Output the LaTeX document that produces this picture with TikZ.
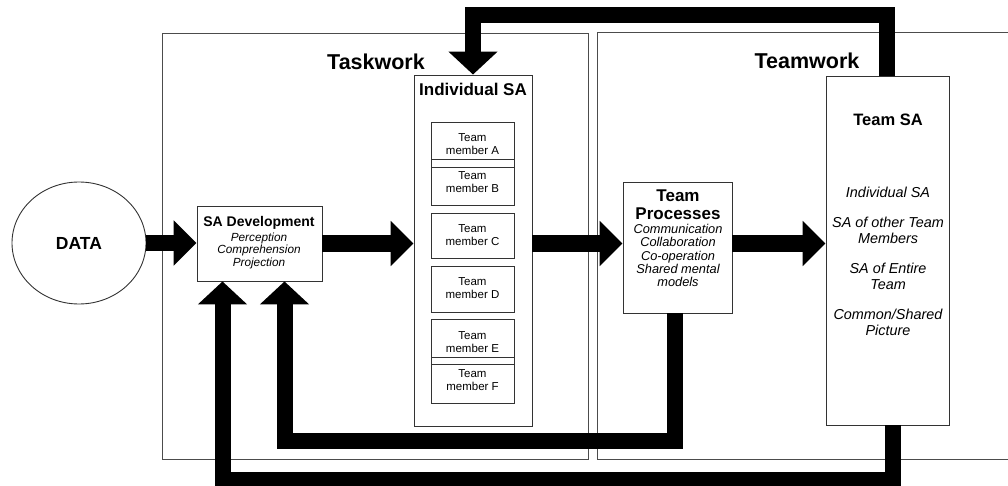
\documentclass[tikz,border=0pt]{standalone}
\usepackage{fontspec}
\setmainfont{Liberation Sans}
\usetikzlibrary{arrows.meta,shapes.geometric}
\newcommand{\fsz}[2]{\fontsize{#1}{#2}\selectfont}
\begin{document}
\begin{tikzpicture}[x=1pt,y=-1pt,
  frame/.style={draw=black!70, line width=0.9pt},
  box/.style={draw=black!80, line width=0.9pt, fill=white, inner sep=0pt},
  fat/.style={line width=16pt, line join=miter, draw=black},
  harrow/.style={fat, -{Triangle[width=44pt,length=23pt]}},
  varrow/.style={fat, -{Triangle[width=48pt,length=23pt]}},
  areatitle/.style={font=\bfseries\fsz{21.5}{24}},
  boxtitle/.style={font=\bfseries\fsz{17}{18}, align=center, inner sep=0pt},
  member/.style={font=\fsz{11.5}{13}, align=center, inner sep=0pt},
  itemlist/.style={font=\itshape\fsz{12.8}{13.2}, align=center, inner sep=0pt}
]
\useasboundingbox (0,0) rectangle (1008,486);

% area frames
\node[frame, minimum width=426pt, minimum height=426pt, inner sep=0pt] (taskwork) at (375,246) {};
\node[inner sep=0pt, minimum width=412pt, minimum height=426pt] (teamwork) at (804,246) {};
\draw[frame] (teamwork.north east) -- (teamwork.north west) -- (teamwork.south west) -- (teamwork.south east);
\node[areatitle] (tasktitle) at (376,62) {Taskwork};
\node[areatitle] (teamtitle) at (807,61) {Teamwork};

% DATA
\node[ellipse, draw=black!80, line width=0.9pt, minimum width=134pt, minimum height=122pt, inner sep=0pt,
      font=\bfseries\fsz{17.5}{20}] (data) at (79,243) {DATA};

% SA Development
\node[box, minimum width=125pt, minimum height=75pt] (sadev) at (259.5,243.5) {};
\node[font=\bfseries\fsz{14}{16}, inner sep=0pt] (sadevt) at (259,223) {SA Development};
\node[font=\itshape\fsz{11.8}{12.5}, align=center, inner sep=0pt] (sadevl) at (259,250.5) {Perception\\Comprehension\\Projection};

% Individual SA
\node[box, minimum width=118pt, minimum height=351pt] (indsa) at (473,250.5) {};
\node[boxtitle] (indsat) at (473,89) {Individual SA};

\node[box, minimum width=83pt, minimum height=83pt] (mab) at (472.5,163.5) {};
\node[box, minimum width=83pt, minimum height=8pt] (band1) at (472.5,163) {};
\node[member] (ta) at (472.5,144.5) {Team\\member A};
\node[member] (tb) at (472.5,182) {Team\\member B};

\node[box, minimum width=83pt, minimum height=45pt] (mc) at (472.5,235.5) {};
\node[member] (tc) at (472.5,235) {Team\\member C};

\node[box, minimum width=83pt, minimum height=46pt] (md) at (472.5,289) {};
\node[member] (td) at (472.5,288.5) {Team\\member D};

\node[box, minimum width=83pt, minimum height=84pt] (mef) at (472.5,361) {};
\node[box, minimum width=83pt, minimum height=7pt] (band2) at (472.5,360.5) {};
\node[member] (te) at (472.5,342.5) {Team\\member E};
\node[member] (tf) at (472.5,380) {Team\\member F};

% Team Processes
\node[box, minimum width=109pt, minimum height=131pt] (tp) at (677.5,247.5) {};
\node[boxtitle] (tpt) at (678,205) {Team\\Processes};
\node[itemlist] (tpl) at (678,255.5) {Communication\\Collaboration\\Co-operation\\Shared mental\\models};

% Team SA
\node[box, minimum width=123pt, minimum height=349pt] (teamsa) at (887.5,250.5) {};
\node[boxtitle, font=\bfseries\fsz{16.5}{18}] (teamsat) at (888,120) {Team SA};
\node[itemlist, font=\itshape\fsz{14.4}{16}] (teamsal) at (888,261.5)
  {Individual SA\\[14pt]SA of other Team\\Members\\[14pt]SA of Entire\\Team\\[14pt]Common/Shared\\Picture};

% forward flow
\draw[harrow] (data.east) -- (data.east -| sadev.west);
\draw[harrow] (sadev.east) -- (sadev.east -| indsa.west);
\draw[harrow] (indsa.east |- sadev.east) -- (sadev.east -| tp.west);
\draw[harrow] (tp.east |- sadev.east) -- (sadev.east -| teamsa.west);

% feedback loops
\coordinate (topbar) at (0,15);
\coordinate (innerbar) at (0,440.5);
\coordinate (outerbar) at (0,480);
\draw[varrow] ([xshift=-1pt]teamsa.north) -- ([xshift=-1pt]teamsa.north |- topbar) -| (indsa.north);
\draw[varrow] ([xshift=-2.5pt]tp.south) -- ([xshift=-2.5pt]tp.south |- innerbar) -| ([xshift=25pt]sadev.south);
\draw[varrow] ([xshift=5.5pt]teamsa.south) -- ([xshift=5.5pt]teamsa.south |- outerbar) -| ([xshift=-37pt]sadev.south);
\end{tikzpicture}
\end{document}
